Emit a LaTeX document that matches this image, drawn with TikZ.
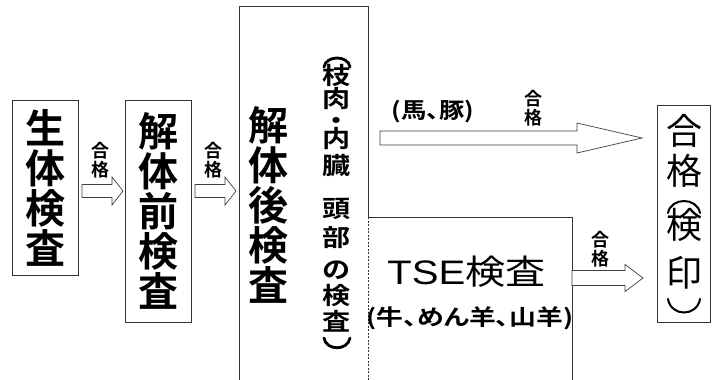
\documentclass[tikz,border=0pt]{standalone}
\usepackage{fontspec}
\setmainfont{Liberation Sans}
\newfontfamily\jp[RawFeature=+palt,BoldFont={Noto Sans CJK JP Bold}]{Noto Sans CJK JP}
\newfontfamily\jpv[BoldFont={Noto Sans CJK JP Bold}]{Noto Sans CJK JP}
\lineskiplimit=-100pt\relax
\newcommand\cc[1]{\scalebox{1.04}[0.88]{#1}}
\newcommand\blockarrow[6]{%
  \draw[barrow] (#1,#4-#5) -- (#2,#4-#5) -- (#2,#4-#6) -- (#3,#4) -- (#2,#4+#6) -- (#2,#4+#5) -- (#1,#4+#5) -- cycle;}
\begin{document}
\begin{tikzpicture}[x=1pt,y=-1pt,
  every node/.style={inner sep=0pt,outer sep=0pt},
  box/.style={draw=black!80,line width=0.9pt},
  frame/.style={draw=black!80,line width=0.9pt},
  barrow/.style={draw=black!75,line width=0.7pt,fill=white},
  bigv/.style={align=center,font=\jpv\bfseries\fontsize{40}{40}\selectfont},
  colv/.style={align=center,font=\jpv\bfseries\fontsize{27}{27}\selectfont},
  finv/.style={align=center,font=\jpv\fontsize{36}{42}\selectfont},
  colparen/.style={line width=2.8pt,line cap=round},
  finparen/.style={line width=2pt,line cap=round},
  passlbl/.style={align=center,font=\jpv\bfseries\fontsize{18}{19}\selectfont},
  hlbl/.style={font=\jp\bfseries\fontsize{22}{24}\selectfont}
]
\useasboundingbox (0,0) rectangle (712,380);
\fill[white] (0,0) rectangle (712,380);

% boxes
\node[box,minimum width=66pt,minimum height=175pt,bigv] (b1) at (45,187.5) {生\\体\\検\\査};
\node[box,minimum width=66pt,minimum height=222pt,bigv] (b2) at (158,211) {解\\体\\前\\検\\査};
\node[bigv] (b3) at (268,205) {解\\体\\後\\検\\査};
\node[colv,anchor=north] (col) at (337,64) {\cc{枝}\\[-4pt]\cc{肉}\\[-5pt]\cc{・}\\[-9pt]\cc{内}\\\cc{臓}\\[16pt]\cc{頭}\\[2pt]\cc{部}\\[5pt]\cc{の}\\[-1pt]\cc{検}\\[-1pt]\cc{査}};
% vertical brackets of the column text
\draw[colparen] (324,67) .. controls (326,55) and (348,55) .. (350,67);
\draw[colparen] (324,338) .. controls (326,351) and (348,351) .. (350,338);

% frame of the post-slaughter inspection and TSE boxes
\coordinate (p1) at (239,380);
\coordinate (p2) at (239,6.5);
\coordinate (p3) at (368,6.5);
\coordinate (p4) at (368,217);
\coordinate (p5) at (572,217);
\coordinate (p6) at (572,380);
\coordinate (p7) at (368,380);
\draw[frame] (p1) -- (p2) -- (p3) -- (p4) -- (p5) -- (p6);
\draw[frame,line width=0.7pt,dash pattern=on 2pt off 1.5pt] (p4) -- (p7);

\node[font=\fontsize{34}{34}\selectfont] (tse) at (466.5,272) {\scalebox{1.18}[1]{TSE{\jp 検査}}};
\node[hlbl] (tsesub) at (470,318) {\scalebox{1.22}[1]{(牛、めん羊、山羊)}};

% final box
\node[box,minimum width=53pt,minimum height=217pt] (fin) at (683.5,213.5) {};
\node[finv,anchor=north] (fintext) at (684,114) {合\\[-2pt]格\\[12pt]検\\[6pt]印};
\draw[finparen] (668,213) .. controls (671,197) and (697,197) .. (700,213);
\draw[finparen] (668,299) .. controls (671,317) and (697,317) .. (700,299);

% arrows
\blockarrow{82}{112}{123}{191}{6.5}{14}
\blockarrow{195}{225}{236}{191}{6.5}{14}
\blockarrow{380}{577}{642}{138}{7}{15}
\blockarrow{572}{625}{643}{278}{7.5}{13.5}

% labels
\node[passlbl] (l1) at (100,160) {合\\格};
\node[passlbl] (l2) at (213,160) {合\\格};
\node[passlbl] (l3) at (533,108) {合\\格};
\node[passlbl] (l4) at (600,249) {合\\格};
\node[hlbl] (horse) at (433,112) {\scalebox{1.15}[1]{(馬、豚)}};
\end{tikzpicture}
\end{document}
